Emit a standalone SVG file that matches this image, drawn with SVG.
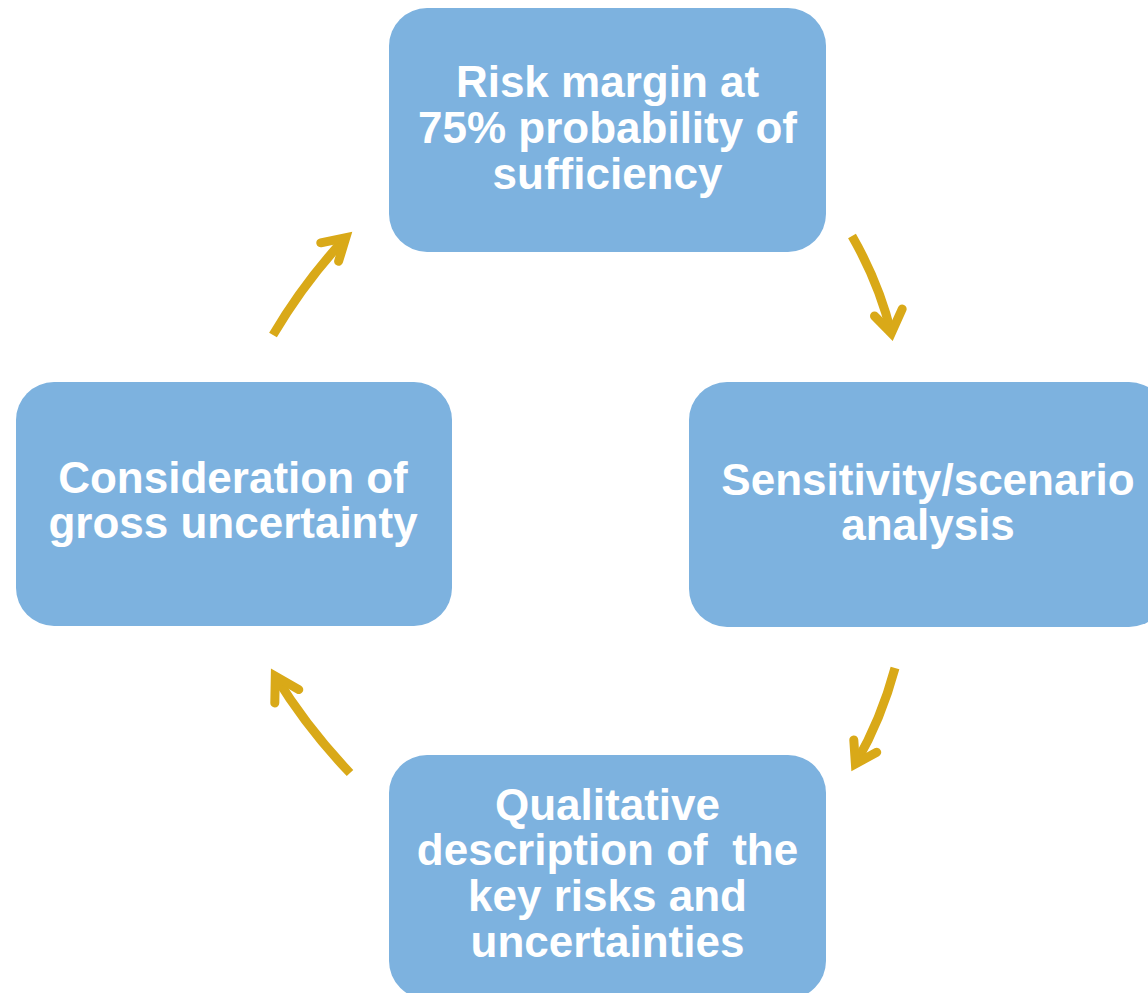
<svg xmlns="http://www.w3.org/2000/svg" width="1148" height="993" viewBox="0 0 1148 993">
  <style>
    .box { fill: #7DB2DF; }
    .label { font-family: "Liberation Sans", Arial, sans-serif; font-weight: bold; font-size: 44px; fill: #FFFFFF; text-anchor: middle; }
    .shaft { fill: none; stroke: #D9A918; stroke-width: 9; stroke-linecap: butt; }
    .head { fill: none; stroke: #D9A918; stroke-width: 9; stroke-linecap: round; stroke-linejoin: miter; stroke-miterlimit: 10; }
  </style>
  <rect width="1148" height="993" fill="#FFFFFF"/>

  <g id="node-risk-margin">
    <rect class="box" x="389" y="8" width="437" height="244" rx="38" ry="38"/>
    <text class="label" x="607.5" y="97">Risk margin at</text>
    <text class="label" x="607.5" y="143">75% probability of</text>
    <text class="label" x="607.5" y="189">sufficiency</text>
  </g>

  <g id="node-sensitivity">
    <rect class="box" x="689" y="382" width="478" height="245" rx="38" ry="38"/>
    <text class="label" x="928" y="495">Sensitivity/scenario</text>
    <text class="label" x="928" y="540">analysis</text>
  </g>

  <g id="node-qualitative">
    <rect class="box" x="389" y="755" width="437" height="244" rx="38" ry="38"/>
    <text class="label" x="607.5" y="820">Qualitative</text>
    <text class="label" x="607.5" y="865" xml:space="preserve">description of  the</text>
    <text class="label" x="607.5" y="911">key risks and</text>
    <text class="label" x="607.5" y="957">uncertainties</text>
  </g>

  <g id="node-gross-uncertainty">
    <rect class="box" x="16" y="382" width="436" height="244" rx="38" ry="38"/>
    <text class="label" x="233" y="493">Consideration of</text>
    <text class="label" x="233" y="538">gross uncertainty</text>
  </g>

  <g id="connectors">
    <!-- risk margin -> sensitivity -->
    <path class="shaft" d="M852,236 Q879,283 891.3,333.2"/>
    <path class="head" d="M874.5,316 L891.3,333.2 L902.2,309"/>
    <!-- sensitivity -> qualitative -->
    <path class="shaft" d="M895,668 Q881,720 855.4,763.9"/>
    <path class="head" d="M853.8,740 L855.4,763.9 L876.7,752.3"/>
    <!-- qualitative -> gross uncertainty -->
    <path class="shaft" d="M350,773 Q307,728 275.3,676.2"/>
    <path class="head" d="M274.8,703 L275.3,676.2 L298.8,689.6"/>
    <!-- gross uncertainty -> risk margin -->
    <path class="shaft" d="M273,335 Q305,281 345.8,237.7"/>
    <path class="head" d="M320.8,242.8 L345.8,237.7 L338.6,261.3"/>
  </g>
</svg>
